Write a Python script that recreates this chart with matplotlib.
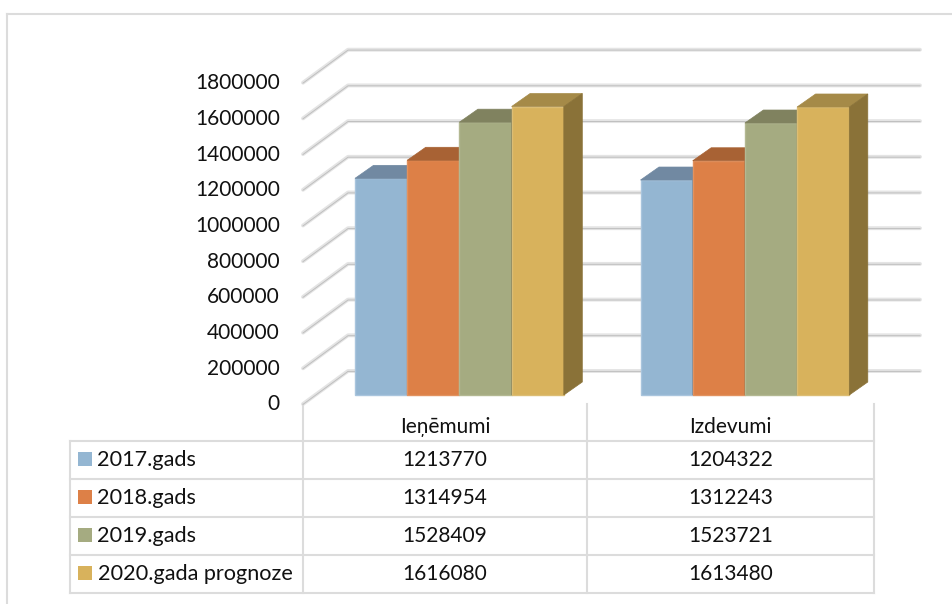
import matplotlib
matplotlib.use("Agg")
import matplotlib.pyplot as plt
from matplotlib.patches import Polygon

plt.rcParams['font.family'] = ['Lato', 'DejaVu Sans']

categories = ["Ieņēmumi", "Izdevumi"]
series_names = ["2017.gads", "2018.gads", "2019.gads", "2020.gada prognoze"]
values_2017 = [1213770, 1204322]
values_2018 = [1314954, 1312243]
values_2019 = [1528409, 1523721]
values_2020 = [1616080, 1613480]
all_values = [values_2017, values_2018, values_2019, values_2020]
y_ticks = [0, 200000, 400000, 600000, 800000, 1000000, 1200000, 1400000, 1600000, 1800000]

front_colors = ["#94b6d2", "#dd8047", "#a5ab81", "#d8b25c"]
top_colors = ["#7189a2", "#a86234", "#80825f", "#a58a48"]
side_colors = ["#6d8aa3", "#a25f33", "#7c7f5e", "#8a7238"]
edge_colors = ["#a9c5dd", "#e2925f", "#b3b892", "#dcbd74"]

W, H = 952, 604
px_per_unit = 35.7 / 200000
bar_base = 395
wall_base = 404
wall_dx, wall_dy = 45, 33
depth_dx, depth_dy = 18.5, 13
group_left = [355, 640.5]
bar_w = 52.2
rows_y = [441, 479, 517, 555, 593]
col_x = [70, 303, 587, 874]
font_size = 15
text_c = "#111111"

fig = plt.figure(figsize=(W / 100, H / 100), dpi=100)

# pixel layer for frame, walls and table
ax = fig.add_axes([0, 0, 1, 1])
ax.set_xlim(0, W)
ax.set_ylim(H, 0)
ax.axis("off")

# value layer for the bars, same area of the figure
bx = fig.add_axes([0, 0, 1, 1])
bx.set_xlim(0, W)
bx.set_ylim(-(H - bar_base) / px_per_unit, bar_base / px_per_unit)
bx.axis("off")
bx.patch.set_alpha(0)

line_c = "#dcdcdc"
ax.plot([7, 7], [14, H], color=line_c, lw=1.5)
ax.plot([7, W], [14, 14], color=line_c, lw=1.5)

# walls
for v in y_ticks:
    y = wall_base - v * px_per_unit
    xs = [col_x[1], col_x[1] + wall_dx, 920]
    ys = [y, y - wall_dy, y - wall_dy]
    ax.plot(xs, ys, color="#e4e4e4", lw=2.8, solid_capstyle="round", zorder=1)
    ax.plot(xs, [p + 0.4 for p in ys], color="#bfbfbf", lw=0.7, zorder=1.1)
    ax.text(280, y - 1.5, str(v), ha="right", va="center_baseline", fontsize=font_size, color=text_c)

# bars
for g, left in enumerate(group_left):
    for s, vals in enumerate(all_values):
        x = left + s * bar_w
        v = vals[g]
        dv = depth_dy / px_per_unit
        bx.bar(x, v, width=bar_w, align="edge", color=front_colors[s],
               edgecolor=edge_colors[s], lw=1, zorder=3 + s)
        bx.add_patch(Polygon([[x, v], [x + depth_dx, v + dv], [x + bar_w + depth_dx, v + dv], [x + bar_w, v]],
                             closed=True, fc=top_colors[s], ec=top_colors[s], lw=0.5, zorder=3 + s))
        bx.add_patch(Polygon([[x + bar_w, 0], [x + bar_w + depth_dx, dv], [x + bar_w + depth_dx, v + dv], [x + bar_w, v]],
                             closed=True, fc=side_colors[s], ec=side_colors[s], lw=0.5, zorder=3 + s))

# data table
for y in rows_y:
    ax.plot([col_x[0], col_x[-1]], [y, y], color=line_c, lw=1.5, zorder=1)
ax.plot([col_x[0]] * 2, [rows_y[0], rows_y[-1]], color=line_c, lw=1.5, zorder=1)
for x in col_x[1:]:
    ax.plot([x, x], [wall_base, rows_y[-1]], color=line_c, lw=1.5, zorder=1)

for c, name in enumerate(categories):
    cx = (col_x[c + 1] + col_x[c + 2]) / 2
    ax.text(cx, 425, name, ha="center", va="center_baseline", fontsize=font_size, color=text_c)
    for r, vals in enumerate(all_values):
        ax.text(cx, (rows_y[r] + rows_y[r + 1]) / 2 - 1.5, str(vals[c]), ha="center", va="center_baseline",
                fontsize=font_size, color=text_c)

for r, name in enumerate(series_names):
    yc = (rows_y[r] + rows_y[r + 1]) / 2
    ax.add_patch(plt.Rectangle((78, yc - 8), 14, 14, fc=front_colors[r], ec="none"))
    ax.text(97.5, yc - 1.5, name, ha="left", va="center_baseline", fontsize=15.6, color=text_c)

fig.savefig("out.png", dpi=100, facecolor="white")
